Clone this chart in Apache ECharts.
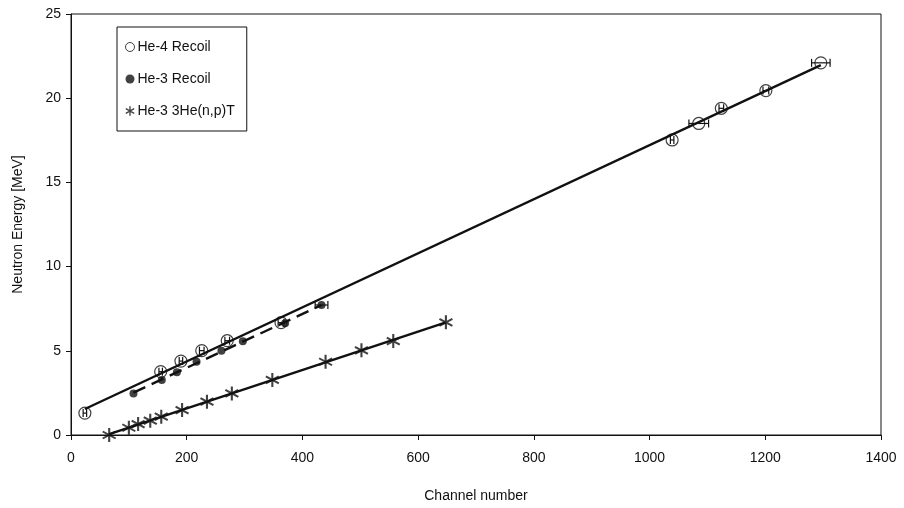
<!DOCTYPE html>
<html><head><meta charset="utf-8">
<script src="https://cdn.jsdelivr.net/npm/echarts@6/dist/echarts.min.js"></script>
<style>html,body{margin:0;padding:0;background:#fff}#c{width:904px;height:508px}</style>
</head><body><div id="c"></div>
<script>
// ---- data ----
const he4Channel = [24, 155, 190, 226, 270, 363, 1039, 1085, 1124, 1201, 1296];
const he4Energy  = [1.3, 3.76, 4.39, 5.01, 5.6, 6.67, 17.52, 18.5, 19.4, 20.45, 22.1];
const he4ChErr   = [3, 3, 3, 4, 4, 5, 3, 17, 4, 5, 16];

const he3Channel = [108, 157, 183, 217, 260, 297, 370, 433];
const he3Energy  = [2.47, 3.27, 3.72, 4.35, 5.01, 5.56, 6.63, 7.72];
const he3ChErr   = [0, 0, 0, 0, 0, 0, 0, 11];

const npChannel = [66, 100, 116, 137, 156, 192, 235, 278, 348, 440, 502, 557, 648];
const npEnergy  = [0.0, 0.43, 0.65, 0.85, 1.09, 1.48, 1.98, 2.47, 3.27, 4.35, 5.03, 5.58, 6.69];

const xTicks = [0, 200, 400, 600, 800, 1000, 1200, 1400];
const yTicks = [0, 5, 10, 15, 20, 25];

const seriesNames = ['He-4 Recoil', 'He-3 Recoil', 'He-3 3He(n,p)T'];

// ---- helpers ----
function pairs(xs, ys){ return xs.map((x,i)=>[x, ys[i]]); }
function fitLine(xs, ys){
  const n = xs.length;
  let sx=0, sy=0, sxx=0, sxy=0;
  for (let i=0;i<n;i++){ sx+=xs[i]; sy+=ys[i]; sxx+=xs[i]*xs[i]; sxy+=xs[i]*ys[i]; }
  const b = (n*sxy - sx*sy)/(n*sxx - sx*sx);
  const a = (sy - b*sx)/n;
  const x0 = Math.min(...xs), x1 = Math.max(...xs);
  return [[x0, a+b*x0],[x1, a+b*x1]];
}
function errData(xs, ys, es){
  const out=[]; xs.forEach((x,i)=>{ if(es[i]>0) out.push([x, ys[i], es[i]]); }); return out;
}
const INK = '#111';
const FONT = 'Liberation Sans, Arial, Helvetica, sans-serif';

const starPath = 'path://M-0.7,-5 L0.7,-5 L0.7,5 L-0.7,5 Z ' +
  'M3.98,-3.11 L4.68,-1.89 L-3.98,3.11 L-4.68,1.89 Z ' +
  'M4.68,1.89 L3.98,3.11 L-4.68,-1.89 L-3.98,-3.11 Z';

function renderErr(params, api){
  const x = api.value(0), y = api.value(1), e = api.value(2);
  const p1 = api.coord([x-e, y]), p2 = api.coord([x+e, y]);
  const h = 4;
  const st = {stroke: INK, lineWidth: 1.2};
  return {type:'group', children:[
    {type:'line', shape:{x1:p1[0], y1:p1[1], x2:p2[0], y2:p2[1]}, style:st},
    {type:'line', shape:{x1:p1[0], y1:p1[1]-h, x2:p1[0], y2:p1[1]+h}, style:st},
    {type:'line', shape:{x1:p2[0], y1:p2[1]-h, x2:p2[0], y2:p2[1]+h}, style:st}
  ]};
}

const chart = echarts.init(document.getElementById('c'), null, {renderer:'canvas'});
chart.setOption({
  animation:false,
  backgroundColor:'#fff',
  textStyle:{fontFamily:FONT, color:INK},
  grid:{left:71, right:23, top:14, bottom:73, show:true, borderColor:INK, borderWidth:1},
  legend:{
    orient:'vertical', left:117, top:27,
    padding:[13, 12, 13, 8],
    itemGap:18, itemWidth:9, itemHeight:15,
    borderColor:INK, borderWidth:1, backgroundColor:'#fff',
    textStyle:{fontSize:14, color:INK, fontFamily:FONT, padding:[0,0,0,-2]},
    data:[
      {name:seriesNames[0], icon:'circle', itemStyle:{color:'#fff', borderColor:INK, borderWidth:1}},
      {name:seriesNames[1], icon:'circle', itemStyle:{color:INK}},
      {name:seriesNames[2], icon:starPath, itemStyle:{color:INK}}
    ]
  },
  xAxis:{
    type:'value', min:xTicks[0], max:xTicks[xTicks.length-1], interval:200,
    name:'Channel number', nameLocation:'middle', nameGap:54,
    nameTextStyle:{fontSize:14, color:INK, fontFamily:FONT},
    axisLine:{show:true, lineStyle:{color:INK, width:1}},
    axisTick:{show:true, inside:false, length:5, lineStyle:{color:INK}},
    axisLabel:{fontSize:14, color:INK, margin:16, fontFamily:FONT, formatter:v=>String(v)},
    splitLine:{show:false}
  },
  yAxis:{
    type:'value', min:yTicks[0], max:yTicks[yTicks.length-1], interval:5,
    name:'Neutron Energy [MeV]', nameLocation:'middle', nameGap:46, nameRotate:90,
    nameTextStyle:{fontSize:14, color:INK, fontFamily:FONT},
    axisLine:{show:true, lineStyle:{color:INK, width:1}},
    axisTick:{show:true, inside:false, length:5, lineStyle:{color:INK}},
    axisLabel:{fontSize:14, color:INK, margin:10, fontFamily:FONT, formatter:v=>String(v)},
    splitLine:{show:false}
  },
  series:[
    {type:'line', data:fitLine(he4Channel, he4Energy), symbol:'none', silent:true,
     lineStyle:{color:INK, width:2.4}, z:2},
    {type:'line', data:fitLine(he3Channel, he3Energy), symbol:'none', silent:true,
     lineStyle:{color:INK, width:2.4, type:[13,7]}, z:2},
    {type:'line', data:fitLine(npChannel, npEnergy), symbol:'none', silent:true,
     lineStyle:{color:INK, width:2.4}, z:2},
    {type:'custom', renderItem:renderErr, data:errData(he4Channel, he4Energy, he4ChErr), silent:true, z:3},
    {type:'custom', renderItem:renderErr, data:errData(he3Channel, he3Energy, he3ChErr), silent:true, z:3},
    {name:seriesNames[0], type:'scatter', data:pairs(he4Channel, he4Energy), symbol:'circle', symbolSize:12,
     itemStyle:{color:'rgba(255,255,255,0)', borderColor:INK, borderWidth:1.2}, z:4},
    {name:seriesNames[1], type:'scatter', data:pairs(he3Channel, he3Energy), symbol:'circle', symbolSize:8,
     itemStyle:{color:INK}, z:4},
    {name:seriesNames[2], type:'scatter', data:pairs(npChannel, npEnergy), symbol:starPath, symbolSize:14,
     itemStyle:{color:INK}, z:4}
  ]
});
</script></body></html>
